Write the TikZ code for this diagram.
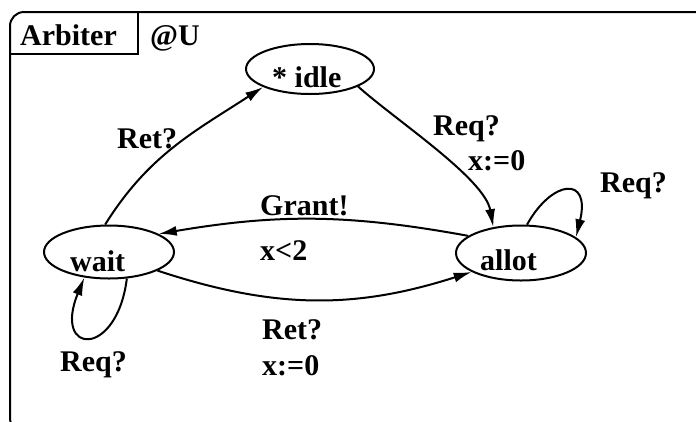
\documentclass[tikz,border=0pt]{standalone}
\usepackage{fontspec}
\setmainfont{Liberation Serif}
\usetikzlibrary{arrows.meta, shapes.geometric}
\usetikzlibrary{positioning}
\tikzstyle{loc_node} = [
    ellipse,
    draw=black,
    line width=2pt,
    inner sep=0pt,
    minimum width=130pt,
    minimum height=53pt
]
\tikzstyle{bold_text} = [
    anchor=base west,
    inner sep=0pt,
    font=\bfseries\fontsize{30}{32}\selectfont
]
\tikzstyle{trans} = [
    line width=2pt,
    -{Latex[length=18pt, width=10pt]}
]

\begin{document}
\begin{tikzpicture}[x=1pt, y=1pt]
\useasboundingbox (0,0) rectangle (696,-421);
\clip (0,0) rectangle (696,-421);
% template frame and name tab
\draw[line width=2pt, rounded corners=14pt] (10,-12) rectangle (712,-432);
\draw[line width=2pt] (138,-12) -- (138,-54) -- (10,-54);
\node [bold_text] (tname) at (20,-45) {Arbiter};
\node [bold_text] (tpar) at (150,-45) {@U};

% locations
\node [loc_node, minimum width=128pt, minimum height=50pt] (idle) at (310,-69) {};
\node [loc_node] (wait) at (109,-252) {};
\node [loc_node, minimum height=55pt] (allot) at (521,-253) {};
\node [bold_text] (idle_txt) at (272,-87) {* idle};
\node [bold_text] (wait_txt) at (70,-271) {wait};
\node [bold_text] (allot_txt) at (480,-270) {allot};

% transitions
\draw [trans] (wait.98) to[out=58, in=213] (idle.201);
\draw [trans] (idle.-20) to[out=-42, in=100, looseness=0.65] (allot.137);
\draw [trans] (allot.162) to[bend right=10] (wait.20);
\draw [trans] (wait.-21) to[bend right=18] (allot.201);
\draw [trans] (wait.-56) .. controls +(-10,-80) and +(-32,-78) .. (wait.-134);
\draw [trans] (allot.78) .. controls +(25,45) and +(15,62) .. (allot.16);

% guards, syncs and updates
\node [bold_text] (ret_up) at (117,-148) {Ret?};
\node [bold_text] (req_up) at (433,-135) {Req?};
\node [bold_text] (upd_up) at (468,-170) {x:=0};
\node [bold_text] (req_loop) at (600,-192) {Req?};
\node [bold_text] (grant) at (260,-215) {Grant!};
\node [bold_text] (guard) at (260,-260) {x<2};
\node [bold_text] (ret_dn) at (262,-339) {Ret?};
\node [bold_text] (upd_dn) at (262,-375) {x:=0};
\node [bold_text] (req_wait) at (60,-371) {Req?};
\end{tikzpicture}
\end{document}
